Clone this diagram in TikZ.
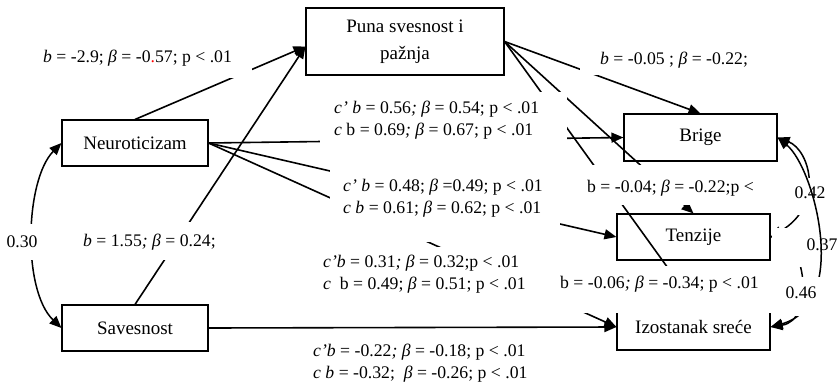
\documentclass[tikz,border=0pt]{standalone}
\usepackage{fontspec}
\setmainfont{Liberation Serif}
\usetikzlibrary{arrows.meta}
\begin{document}
\begin{tikzpicture}[x=1pt,y=-1pt,
  box/.style={draw, line width=1.1pt, inner sep=0pt, font=\fontsize{19}{27}\selectfont, align=center},
  conn/.style={line width=1.6pt, -{Triangle[length=12pt,width=10pt]}},
  bicurve/.style={line width=1.5pt, {Triangle[length=12pt,width=10pt]}-{Triangle[length=12pt,width=10pt]}},
  mask/.style={fill=white},
  lbl/.style={font=\fontsize{17.7}{22}\selectfont, inner sep=0pt, align=left},
]
\useasboundingbox (0,0) rectangle (838,386);

% boxes
\node[box, minimum width=198pt, minimum height=67pt] (puna) at (405,41.5) {Puna svesnost i\\pažnja};
\node[box, minimum width=146pt, minimum height=46pt] (neuro) at (135,143) {Neuroticizam};
\node[box, minimum width=146pt, minimum height=46pt] (saves) at (135,328) {Savesnost};
\node[box, minimum width=153pt, minimum height=47pt] (brige) at (700.5,137.5) {Brige};
\node[box, minimum width=153pt, minimum height=46pt] (tenz) at (693.5,237) {Tenzije};
\node[box, minimum width=153pt, minimum height=46pt] (izo) at (693.5,327) {Izostanak sreće};
\coordinate (pin) at ([yshift=-5pt]puna.west);

% connectors
\draw[conn] (neuro.north) -- (pin);
\draw[conn] (saves.north) -- (pin);
\draw[conn] (puna.east) -- (brige.north);
\draw[conn] (puna.east) -- (tenz.north);
\draw[conn] (puna.east) -- (izo.north);
\draw[conn] (neuro.east) -- (brige.west);
\draw[conn] (neuro.east) -- (tenz.west);
\draw[conn] (neuro.east) -- (izo.west);
\draw[conn] (saves.east) -- (izo.west);
\draw[bicurve] (neuro.west) .. controls (25,180) and (22,290) .. (saves.west);
\draw[bicurve] (brige.east) .. controls (810,150) and (825,205) .. (tenz.east);
\draw[bicurve] (tenz.east) .. controls (805,245) and (815,320) .. (izo.east);

% white text-box backgrounds
\fill[mask] (35,45) rectangle (252,78);
\fill[mask] (580,45) rectangle (760,75);
\fill[mask] (320,92) rectangle (567,160);
\fill[mask] (330,162) rectangle (560,242);
\fill[mask] (585,165) rectangle (760,205);
\fill[mask] (75,222) rectangle (228,260);
\fill[mask] (0,224) rectangle (45,260);
\fill[mask] (310,247) rectangle (582,314);
\fill[mask] (555,266) rectangle (772,313);
\fill[mask] (796,178) rectangle (832,215);
\fill[mask] (771.5,228) rectangle (838,267);

\draw[bicurve] (brige.east) .. controls (815,168) and (850,305) .. (izo.east);
\fill[mask] (785,277) rectangle (830,316);

% labels
\node[lbl, anchor=west] (l1) at (43,58) {\textit{b} = -2.9; \textit{β} = -0{\color{red}.}57; p < .01};
\node[lbl, anchor=west] (l2) at (600,60) {\textit{b} = -0.05 ; \textit{β} = -0.22;};
\node[lbl, anchor=west] (l3) at (334,120) {\textit{c’ b} = 0.56\textit{;} \textit{β} = 0.54; p < .01\\\textit{c} b = 0.69\textit{;} \textit{β} = 0.67; p < .01};
\node[lbl, anchor=west] (l4) at (343,198) {\textit{c’ b} = 0.48; \textit{β} =0.49; p < .01\\\textit{c b} = 0.61; \textit{β} = 0.62; p < .01};
\node[lbl, anchor=west] (l5) at (587,188) {b = -0.04; \textit{β} = -0.22;p <};
\node[lbl, anchor=west] (l6) at (83,242) {\textit{b} = 1.55\textit{; β} = 0.24;};
\node[lbl] (l7) at (22,242) {0.30};
\node[lbl, anchor=west] (l8) at (323,274) {\textit{c’b} = 0.31\textit{; β} = 0.32;p < .01\\\textit{c}\ \ b = 0.49; \textit{β} = 0.51; p < .01};
\node[lbl, anchor=west] (l9) at (560,284) {b = -0.06\textit{; β} = -0.34; p < .01};
\node[lbl, anchor=west] (l10) at (313,363) {\textit{c’b} = -0.22\textit{; β} = -0.18; p < .01\\\textit{c b} = -0.32;\ \ \textit{β} = -0.26; p < .01};
\node[lbl] (l11) at (810,193) {0.42};
\node[lbl] (l12) at (822,245) {0.37};
\node[lbl] (l13) at (801,293) {0.46};
\end{tikzpicture}
\end{document}
